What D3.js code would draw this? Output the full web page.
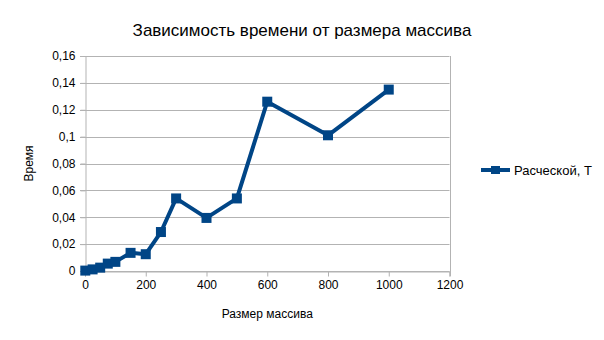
<!DOCTYPE html>
<html lang="ru">
<head>
<meta charset="utf-8">
<script src="https://d3js.org/d3.v7.min.js"></script>
<style>
  body { margin: 0; background: #fff; }
  text { font-family: "Liberation Sans", Arial, sans-serif; fill: #000; }
</style>
</head>
<body>
<script>
// data
var sizes = [1, 25, 50, 75, 100, 150, 200, 250, 300, 400, 500, 600, 800, 1000];
var times = [0.0003, 0.0012, 0.0025, 0.0055, 0.0068, 0.0135, 0.0125, 0.029, 0.054, 0.0395, 0.054, 0.126, 0.101, 0.135];
var xTicks = [0, 200, 400, 600, 800, 1000, 1200];
var yTicks = [0, 0.02, 0.04, 0.06, 0.08, 0.1, 0.12, 0.14, 0.16];
var seriesName = "Расческой, Т";

var w = 604, h = 340;
var pLeft = 85, pRight = 449.5, pTop = 56, pBottom = 271;
var color = "#004586";

var svg = d3.select("body").append("svg")
  .attr("width", w).attr("height", h);

var x = d3.scaleLinear().domain([0, 1200]).range([pLeft, pRight]);
var y = d3.scaleLinear().domain([0, 0.16]).range([pBottom, pTop]);

var fmt = function(d) { return String(+d.toFixed(2)).replace(".", ","); };

// gridlines
svg.append("g").selectAll("line")
  .data(yTicks)
  .enter().append("line")
  .attr("x1", pLeft - 5).attr("x2", pRight)
  .attr("y1", function(d) { return Math.round(y(d)) + 0.5; })
  .attr("y2", function(d) { return Math.round(y(d)) + 0.5; })
  .attr("stroke", "#b3b3b3");

// right border
svg.append("line")
  .attr("x1", Math.round(pRight) + 0.5).attr("x2", Math.round(pRight) + 0.5)
  .attr("y1", pTop).attr("y2", pBottom + 5)
  .attr("stroke", "#b3b3b3");

// x axis
var xAxis = d3.axisBottom(x).tickValues(xTicks).tickSize(5).tickPadding(4)
  .tickFormat(d3.format("d"));
var gx = svg.append("g")
  .attr("transform", "translate(0," + (Math.round(pBottom) + 0.5) + ")")
  .call(xAxis);
gx.select(".domain").attr("stroke", "#b3b3b3");
gx.selectAll(".tick line").attr("stroke", "#b3b3b3");
gx.selectAll("text").attr("font-size", "12px").attr("font-family", "Liberation Sans, Arial, sans-serif");

// y axis
var yAxis = d3.axisLeft(y).tickValues(yTicks).tickSize(5).tickPadding(5).tickFormat(fmt);
var gy = svg.append("g")
  .attr("transform", "translate(" + (Math.round(pLeft) + 0.5) + ",0)")
  .call(yAxis);
gy.select(".domain").attr("stroke", "#b3b3b3");
gy.selectAll(".tick line").attr("stroke", "#b3b3b3");
gy.selectAll("text").attr("font-size", "12px").attr("font-family", "Liberation Sans, Arial, sans-serif");

// series line
var line = d3.line()
  .x(function(d, i) { return x(sizes[i]); })
  .y(function(d) { return y(d); });

svg.append("path")
  .datum(times)
  .attr("d", line)
  .attr("fill", "none")
  .attr("stroke", color)
  .attr("stroke-width", 4)
  .attr("stroke-linejoin", "round");

var ms = 10;
svg.selectAll("rect.pt")
  .data(times)
  .enter().append("rect")
  .attr("class", "pt")
  .attr("x", function(d, i) { return x(sizes[i]) - ms / 2; })
  .attr("y", function(d) { return y(d) - ms / 2; })
  .attr("width", ms).attr("height", ms)
  .attr("fill", color);

// titles
svg.append("text")
  .attr("x", 302).attr("y", 36)
  .attr("text-anchor", "middle")
  .attr("font-size", "17px")
  .text("Зависимость времени от размера массива");

svg.append("text")
  .attr("transform", "translate(33," + ((pTop + pBottom) / 2) + ") rotate(-90)")
  .attr("text-anchor", "middle")
  .attr("font-size", "12px")
  .text("Время");

svg.append("text")
  .attr("x", (pLeft + pRight) / 2).attr("y", 318)
  .attr("text-anchor", "middle")
  .attr("font-size", "12px")
  .text("Размер массива");

// legend
var lg = svg.append("g").attr("transform", "translate(481,170)");
lg.append("line").attr("x1", 0).attr("x2", 29).attr("y1", 0).attr("y2", 0)
  .attr("stroke", color).attr("stroke-width", 4);
lg.append("rect").attr("x", 10).attr("y", -4).attr("width", 9).attr("height", 8)
  .attr("fill", color);
lg.append("text").attr("x", 33).attr("y", 5).attr("font-size", "13px").text(seriesName);
</script>
</body>
</html>
